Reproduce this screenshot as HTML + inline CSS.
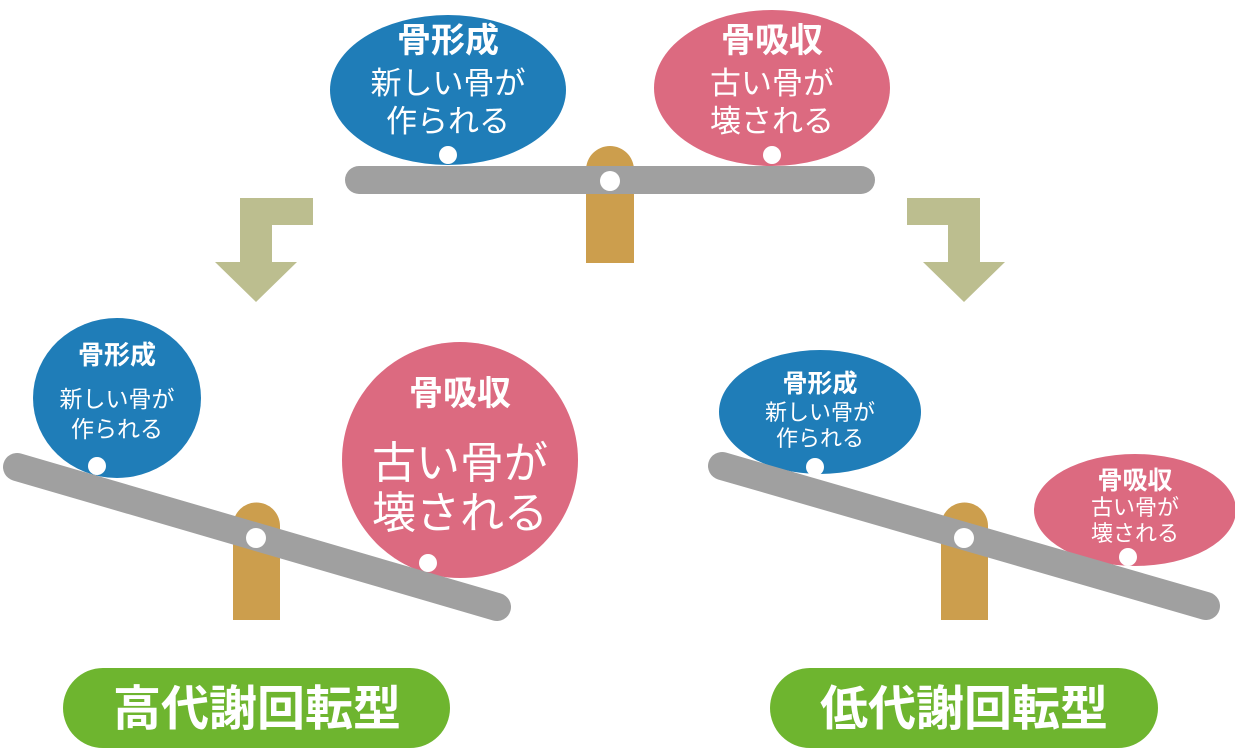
<!DOCTYPE html>
<html><head><meta charset="utf-8"><style>
html,body{margin:0;padding:0;background:#fff;}
svg text{font-family:"Liberation Sans","Noto Sans CJK JP",sans-serif;fill:#fff;text-anchor:middle;}
.b{font-weight:bold;}
</style></head><body>
<svg width="1235" height="750" viewBox="0 0 1235 750" xmlns="http://www.w3.org/2000/svg">
<ellipse cx="448" cy="90" rx="118" ry="75" fill="#1f7db8"/>
<ellipse cx="772" cy="88" rx="118" ry="78" fill="#dc6a80"/>
<path d="M586 263 V170 a24 24 0 0 1 48 0 V263 Z" fill="#cc9e4d"/>
<line x1="359" y1="180" x2="861" y2="180" stroke="#a0a0a0" stroke-width="28" stroke-linecap="round"/>
<circle cx="610" cy="181" r="10" fill="#fff"/>
<circle cx="448" cy="155" r="9" fill="#fff"/>
<circle cx="772" cy="155" r="9" fill="#fff"/>
<text x="448" y="52" class="b" font-size="34">骨形成</text>
<text x="448" y="94" font-size="31">新しい骨が</text>
<text x="448" y="132" font-size="31">作られる</text>
<text x="772" y="52" class="b" font-size="34">骨吸収</text>
<text x="772" y="94" font-size="31">古い骨が</text>
<text x="772" y="132" font-size="31">壊される</text>
<path d="M313 198 V225 H272 V262 H297 L256 302 L215 262 H240 V198 Z" fill="#bcbe8f"/>
<path d="M907 198 V225 H948 V262 H923 L964 302 L1005 262 H980 V198 Z" fill="#bcbe8f"/>
<ellipse cx="117" cy="398" rx="84" ry="80" fill="#1f7db8"/>
<ellipse cx="460" cy="460" rx="118" ry="118" fill="#dc6a80"/>
<path d="M233 620 V526 a23.5 23.5 0 0 1 47 0 V620 Z" fill="#cc9e4d"/>
<line x1="17" y1="467" x2="497" y2="607" stroke="#a0a0a0" stroke-width="28" stroke-linecap="round"/>
<circle cx="256" cy="538" r="10" fill="#fff"/>
<circle cx="97" cy="466" r="9" fill="#fff"/>
<circle cx="428" cy="563" r="9" fill="#fff"/>
<text x="117" y="364" class="b" font-size="26">骨形成</text>
<text x="117" y="407" font-size="23">新しい骨が</text>
<text x="117" y="437" font-size="23">作られる</text>
<text x="460" y="405" class="b" font-size="34">骨吸収</text>
<text x="460" y="478" font-size="44">古い骨が</text>
<text x="460" y="528" font-size="44">壊される</text>
<ellipse cx="820" cy="412" rx="101" ry="62" fill="#1f7db8"/>
<ellipse cx="1135" cy="510" rx="101" ry="56" fill="#dc6a80"/>
<path d="M941 620 V526 a23.5 23.5 0 0 1 47 0 V620 Z" fill="#cc9e4d"/>
<line x1="722" y1="466" x2="1206" y2="606" stroke="#a0a0a0" stroke-width="28" stroke-linecap="round"/>
<circle cx="964" cy="538" r="10" fill="#fff"/>
<circle cx="815" cy="467" r="9" fill="#fff"/>
<circle cx="1128" cy="557" r="9" fill="#fff"/>
<text x="820" y="392" class="b" font-size="25">骨形成</text>
<text x="820" y="420" font-size="22">新しい骨が</text>
<text x="820" y="446" font-size="22">作られる</text>
<text x="1135" y="489" class="b" font-size="25">骨吸収</text>
<text x="1135" y="515" font-size="22">古い骨が</text>
<text x="1135" y="541" font-size="22">壊される</text>
<rect x="63" y="668" width="387" height="80" rx="40" fill="#6eb52f"/>
<text x="257" y="725" class="b" font-size="48">高代謝回転型</text>
<rect x="770" y="668" width="388" height="80" rx="40" fill="#6eb52f"/>
<text x="964" y="725" class="b" font-size="48">低代謝回転型</text>
</svg>
</body></html>
